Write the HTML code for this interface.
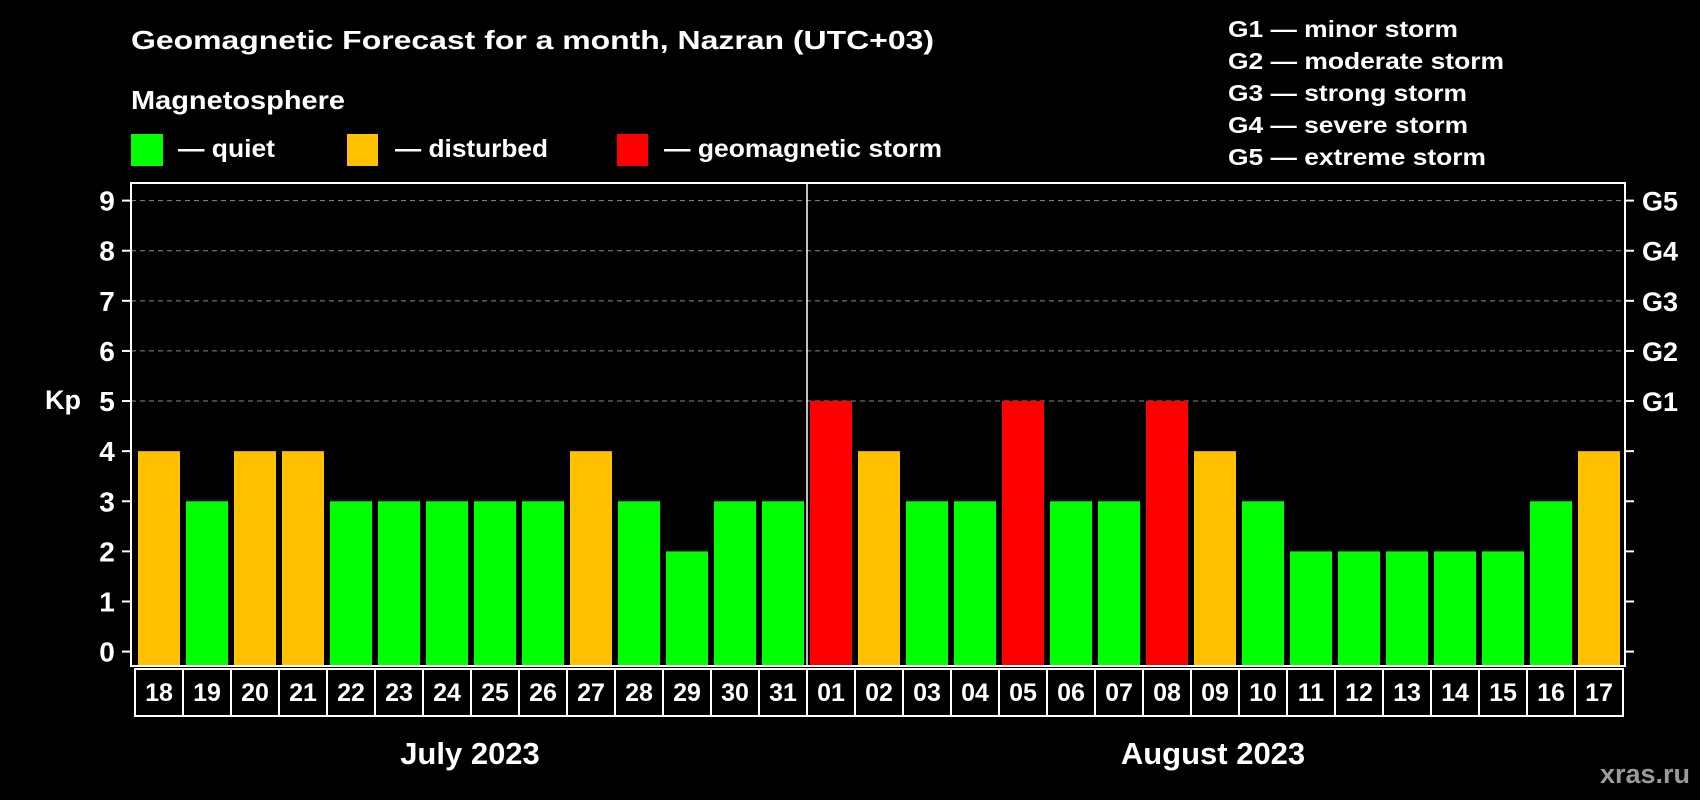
<!DOCTYPE html>
<html><head><meta charset="utf-8"><style>
html,body{margin:0;padding:0;background:#000;}
svg{display:block;font-family:"Liberation Sans",Arial,sans-serif;font-weight:bold;}
</style></head><body>
<svg id="chart" width="1700" height="800" viewBox="0 0 1700 800">
<rect width="1700" height="800" fill="#000"/>
<text x="131" y="49" fill="#fff" font-size="26" textLength="803" lengthAdjust="spacingAndGlyphs">Geomagnetic Forecast for a month, Nazran (UTC+03)</text>
<text x="131" y="109" fill="#fff" font-size="26" textLength="214" lengthAdjust="spacingAndGlyphs">Magnetosphere</text>
<g><rect x="131" y="134" width="32" height="32" fill="#00ff00"/><text x="178" y="157" fill="#fff" font-size="25" textLength="97" lengthAdjust="spacingAndGlyphs">— quiet</text></g>
<g><rect x="347" y="134" width="31" height="32" fill="#ffc000"/><text x="395" y="157" fill="#fff" font-size="25" textLength="153" lengthAdjust="spacingAndGlyphs">— disturbed</text></g>
<g><rect x="617" y="134" width="31" height="32" fill="#ff0000"/><text x="664" y="157" fill="#fff" font-size="25" textLength="278" lengthAdjust="spacingAndGlyphs">— geomagnetic storm</text></g>
<g fill="#fff" font-size="23">
<text x="1228" y="37" textLength="230" lengthAdjust="spacingAndGlyphs">G1 — minor storm</text>
<text x="1228" y="69" textLength="276" lengthAdjust="spacingAndGlyphs">G2 — moderate storm</text>
<text x="1228" y="101" textLength="239" lengthAdjust="spacingAndGlyphs">G3 — strong storm</text>
<text x="1228" y="133" textLength="240" lengthAdjust="spacingAndGlyphs">G4 — severe storm</text>
<text x="1228" y="165" textLength="258" lengthAdjust="spacingAndGlyphs">G5 — extreme storm</text>
</g>
<text x="63" y="409" fill="#fff" font-size="27" text-anchor="middle">Kp</text>
<g id="grid"></g><g id="bars"></g><g id="axes"></g>
<text x="470" y="764" fill="#fff" font-size="31" text-anchor="middle">July 2023</text>
<text x="1213" y="764" fill="#fff" font-size="31" text-anchor="middle">August 2023</text>
<text x="1690" y="783" fill="#9a9a9a" font-size="27" text-anchor="end">xras.ru</text>
</svg>
<script>
const days = ["18","19","20","21","22","23","24","25","26","27","28","29","30","31","01","02","03","04","05","06","07","08","09","10","11","12","13","14","15","16","17"];
const kpValues = [4,3,4,4,3,3,3,3,3,4,3,2,3,3,5,4,3,3,5,3,3,5,4,3,2,2,2,2,2,3,4];
const yTicks = [0,1,2,3,4,5,6,7,8,9];
const gLabels = ["G1","G2","G3","G4","G5"];
const monthBreakIndex = 14;

const NS="http://www.w3.org/2000/svg";
const L=131,R=1625,T=183,B=666,X0=135,STEP=48,BW=42;
const y=v=>651.6-v*(451/9);
const x=i=>X0+i*STEP;
function mk(tag,attrs,parent,txt){const e=document.createElementNS(NS,tag);for(const k in attrs)e.setAttribute(k,attrs[k]);if(txt!==undefined)e.textContent=txt;parent.appendChild(e);return e;}
const grid=document.getElementById('grid'),bars=document.getElementById('bars'),axes=document.getElementById('axes');
yTicks.forEach(v=>{
  if(v>=5){const g=mk('line',{x1:L,x2:R,y1:y(v),y2:y(v),stroke:'#8a8a8a','stroke-width':1,'stroke-dasharray':'5,4'},grid);
    
    }
  const t=mk('line',{x1:L-9,x2:L,y1:y(v),y2:y(v),stroke:'#fff','stroke-width':2},axes);
  
  
  const t2=mk('line',{x1:R,x2:R+9,y1:y(v),y2:y(v),stroke:'#fff','stroke-width':2},axes);
  
  
  const lb=mk('text',{x:107,y:y(v)+10,fill:'#fff','font-size':28,'text-anchor':'middle'},axes,String(v));
  
  
});
gLabels.forEach((g,i)=>{
  const lb=mk('text',{x:1642,y:y(5+i)+10,fill:'#fff','font-size':27},axes,g);
  
  
});
kpValues.forEach((v,i)=>{
  const c=v>=5?'#ff0000':(v>=4?'#ffc000':'#00ff00');
  const r=mk('rect',{x:x(i)+3,y:y(v),width:BW,height:B-1-y(v),fill:c},bars);
  
  
  const cell=mk('rect',{x:x(i),y:669,width:STEP,height:47,fill:'none',stroke:'#fff','stroke-width':2},axes);
  
  
  const lb=mk('text',{x:x(i)+STEP/2,y:701,fill:'#fff','font-size':25,'text-anchor':'middle'},axes,days[i]);
  
  
});
const frame=mk('rect',{x:L,y:T,width:R-L,height:B-T,fill:'none',stroke:'#fff','stroke-width':2},axes);


const div=mk('line',{x1:x(monthBreakIndex),x2:x(monthBreakIndex),y1:T,y2:B,stroke:'#fff','stroke-width':1.5},axes);


</script>
</body></html>
